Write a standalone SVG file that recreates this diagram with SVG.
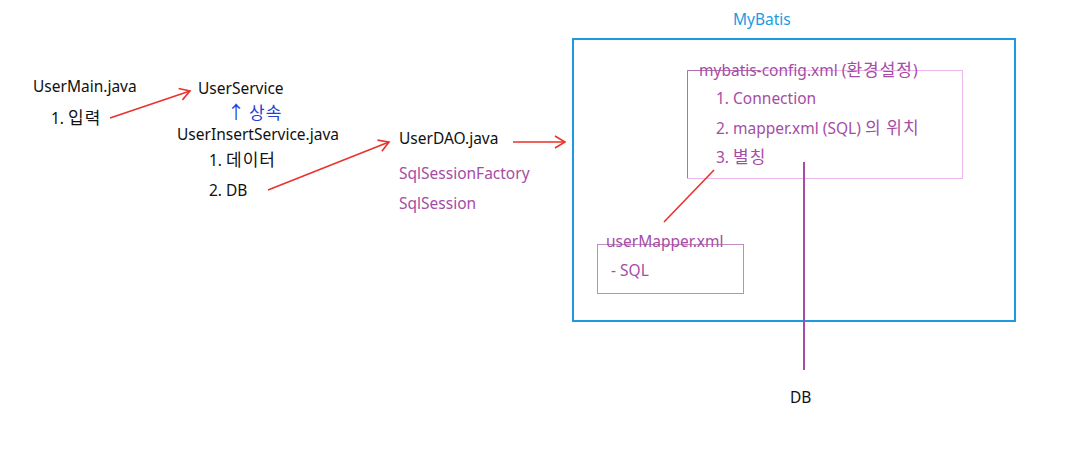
<svg xmlns="http://www.w3.org/2000/svg" width="1073" height="471" viewBox="0 0 1073 471">
<style>
text{font-family:"Noto Sans","Open Sans","Noto Sans CJK KR",sans-serif;font-size:15.5px}
.ko{font-family:"Noto Sans CJK KR",sans-serif;font-size:17px;letter-spacing:1px}
.k{fill:#111}
.p{fill:#a64ca6}
.b{fill:#1f3fd6}
.red{stroke:#e8322b;stroke-width:1.6;fill:none}
</style>
<defs>
<marker id="ah" markerWidth="14" markerHeight="14" refX="11" refY="7" orient="auto" markerUnits="userSpaceOnUse">
<path d="M1,1 L11,7 L1,13" fill="none" stroke="#e8322b" stroke-width="1.6"/>
</marker>
</defs>
<rect width="1073" height="471" fill="#fff"/>
<g id="usermain"><text class="k" x="33" y="92">UserMain.java</text><text class="k" x="51" y="124">1. <tspan class="ko">입력</tspan></text></g>
<g id="userservice"><text class="k" x="198" y="94">UserService</text><text class="b" x="227" y="119"><tspan style="font-size:18px">↑</tspan> <tspan class="ko">상속</tspan></text></g>
<g id="userinsert"><text class="k" x="177" y="140">UserInsertService.java</text><text class="k" x="209" y="166">1. <tspan class="ko">데이터</tspan></text><text class="k" x="209" y="196">2. DB</text></g>
<g id="userdao"><text class="k" x="399" y="144">UserDAO.java</text><text class="p" x="399" y="179">SqlSessionFactory</text><text class="p" x="399" y="209">SqlSession</text></g>
<g id="mybatis"><text x="733" y="25" style="fill:#1e9ae0">MyBatis</text><rect x="573" y="39" width="442" height="282" fill="none" stroke="#1e9ae0" stroke-width="2"/></g>
<g id="config"><rect x="687.5" y="70.5" width="275" height="108" fill="none" stroke="#ecb8ec" stroke-width="1"/><path d="M687.5,178 V70.5 H760" fill="none" stroke="#b070b0" stroke-width="1"/>
<text class="p" x="699" y="76">mybatis-config.xml (<tspan class="ko">환경설정</tspan>)</text>
<text class="p" x="716" y="104">1. Connection</text>
<text class="p" x="716" y="134">2. mapper.xml (SQL) <tspan class="ko">의 위치</tspan></text>
<text class="p" x="716" y="163">3. <tspan class="ko">별칭</tspan></text></g>
<g id="usermapper"><rect x="597.5" y="244.5" width="146" height="49" fill="none" stroke="#c08cc0" stroke-width="1"/>
<text class="p" x="606" y="247">userMapper.xml</text><text class="p" x="611" y="276">- SQL</text></g>
<g id="db"><text class="k" x="790" y="403">DB</text></g>
<g id="connectors">
<line class="red" x1="110" y1="118" x2="190" y2="91" marker-end="url(#ah)"/>
<line class="red" x1="268" y1="190" x2="389" y2="142" marker-end="url(#ah)"/>
<line class="red" x1="513" y1="142" x2="565" y2="142" marker-end="url(#ah)"/>
<line class="red" x1="714" y1="170" x2="664" y2="222"/>
<line x1="804" y1="162" x2="804" y2="370" stroke="#a64ca6" stroke-width="2"/>
</g>
</svg>
